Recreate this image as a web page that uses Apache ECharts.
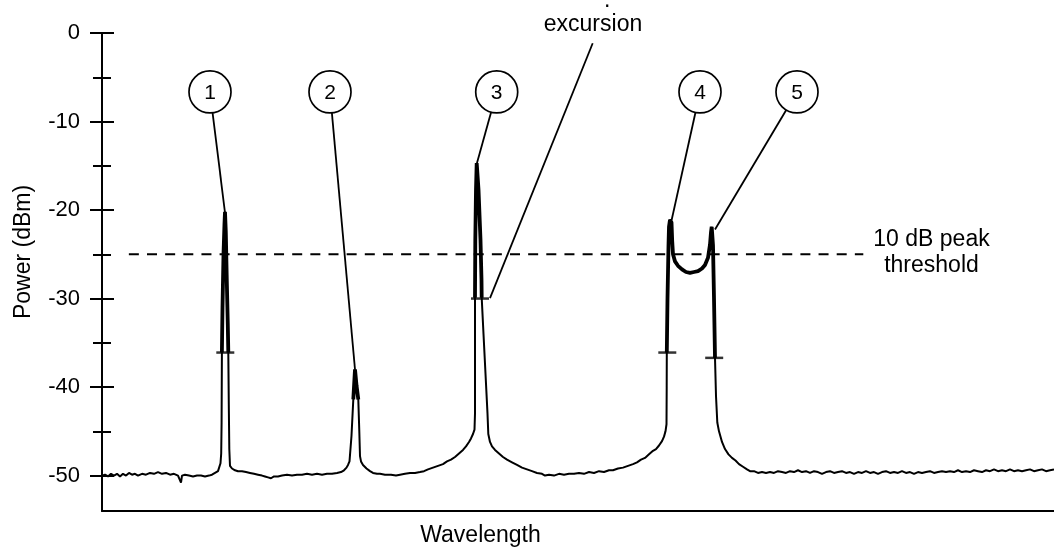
<!DOCTYPE html>
<html><head><meta charset="utf-8">
<script src="https://cdn.jsdelivr.net/npm/echarts@6/dist/echarts.min.js"></script>
<style>html,body{margin:0;padding:0;background:#fff}#c{width:1054px;height:551px}</style>
</head><body><div id="c"></div>
<script>
// ---- data ----
const yTicks = [0, -10, -20, -30, -40, -50];
const yMinorTicks = [-5, -15, -25, -35, -45];
const yRange = [-54, 0];
const xRange = [0, 952];
const threshold = -25;
const thresholdSpan = [26.85, 761.3];
const spectrum = [
[0,-50.0],[3,-49.9],[6,-50.1],[9,-49.8],[12,-50.0],[15,-49.8],[18,-50.1],[21,-49.8],[24,-50.0],[27,-49.7],[30,-49.9],[33,-49.8],[36,-50.0],[40,-49.8],[44,-49.9],[48,-49.7],[52,-49.8],[56,-49.6],[60,-49.8],[64,-49.7],[68,-49.9],[72,-49.8],[76,-50.0],[78,-50.1],[79,-50.8],[80,-50.0],[83,-49.9],[87,-50.0],[91,-50.1],[95,-50.0],[99,-50.0],[103,-50.1],[107,-50.0],[110,-49.9],[113,-49.7],[116,-49.5],[117,-49.3],[118.5,-48.6],[119.2,-47.5],
[119.6,-44],[119.9,-36.1],[120.5,-31],[121.5,-25],[122.5,-21.5],[123,-20.2],[123.8,-22.5],[124.8,-28],[125.8,-33],[126.3,-36.1],[126.8,-42],[127.3,-47],[128,-48.9],
[130,-49.2],[133,-49.4],[136,-49.5],[140,-49.5],[144,-49.6],[148,-49.7],[152,-49.8],[156,-49.9],[160,-50.0],[163,-50.1],[166,-50.2],[169,-50.3],[172,-50.1],[176,-50.1],[180,-50.0],[185,-49.9],[190,-50.0],[195,-49.9],[200,-49.9],[205,-49.8],[210,-49.9],[215,-49.8],[220,-49.9],[225,-49.8],[230,-49.8],[235,-49.7],[239,-49.6],[242,-49.4],[244.5,-49.1],[246,-48.8],[247.5,-48.4],
[248.3,-48.2],[249.5,-45.5],[251.3,-41.4],[253,-38.0],[254.5,-39.8],[256.3,-41.4],[257.3,-45],[258,-47.8],[259,-48.4],[261,-48.8],[264.5,-49.2],[268,-49.5],[271,-49.7],[275,-49.8],[278,-49.8],[283,-49.9],[289,-49.9],[294,-50.0],[298,-49.9],[303,-49.8],[308,-49.7],[313,-49.7],[318,-49.6],[322,-49.5],[326,-49.3],[331,-49.1],[336,-48.9],[341,-48.7],[345,-48.4],[349,-48.2],[353,-47.9],[357,-47.5],[361,-47.1],[364,-46.7],[367,-46.2],[369,-45.8],[371,-45.3],[372.5,-44.8],
[373,-43],[373,-29.9],[373.3,-23.4],[374,-17.7],[374.7,-14.7],[376.5,-17.7],[378.5,-23.4],[379.5,-27.9],[379.7,-29.9],[381.5,-34],[383.5,-38.5],[385.5,-43],[386.3,-45.3],[388,-46.2],[390,-46.7],[393,-47.1],[397,-47.5],[401,-47.9],[405,-48.2],[410,-48.5],[415,-48.8],[420,-49.1],[425,-49.3],[430,-49.5],[435,-49.7],[440,-49.8],[443,-50.0],[447,-49.9],[452,-50.0],[457,-49.8],[462,-49.9],[467,-49.8],[472,-49.8],[477,-49.7],[482,-49.8],[487,-49.6],[492,-49.7],[497,-49.5],[502,-49.6],[507,-49.4],[511,-49.4],[516,-49.2],[521,-49.1],[526,-48.9],[531,-48.7],[535,-48.5],[539,-48.2],[543,-48.0],[547,-47.6],[551,-47.2],[554,-47.0],[557,-46.6],[560,-46.1],[562,-45.6],[563.5,-45.0],[564.5,-44.2],
[564.7,-40],[564.8,-36.1],[565.5,-30],[566.5,-24],[567,-21.9],[568,-21.1],[569.5,-21.4],[570.2,-23.5],[571,-25],[573,-25.8],[576,-26.3],[580,-26.7],[584,-27.0],[588,-27.1],[592,-27.0],[596,-26.9],[600,-26.6],[603,-26.2],[606,-25.4],[608,-23.9],[609,-22.5],[609.7,-21.9],[611,-24],[612,-30],[613,-36.7],[614,-41],[615.3,-44.0],[617,-45],[620,-46.2],[623,-47],[626.5,-47.6],[630,-48.0],[633.5,-48.3],[637,-48.7],[641,-49.0],[645,-49.3],[648,-49.5],[652,-49.5],[656,-49.7],[660,-49.6],[664,-49.7],
[668,-49.6],[672,-49.7],[676,-49.5],[680,-49.6],[684,-49.7],[688,-49.5],[692,-49.6],[696,-49.4],[700,-49.6],[704,-49.5],[708,-49.7],[712,-49.5],[716,-49.6],[720,-49.8],[724,-49.6],[728,-49.5],[732,-49.7],[736,-49.6],[740,-49.5],[744,-49.7],[748,-49.6],[752,-49.8],[756,-49.6],[760,-49.7],[764,-49.5],[768,-49.7],[772,-49.6],[776,-49.8],[780,-49.6],[784,-49.5],[788,-49.7],[792,-49.6],[796,-49.7],[800,-49.5],[804,-49.7],[808,-49.6],[812,-49.8],[816,-49.6],[820,-49.7],[824,-49.6],[828,-49.5],[832,-49.7],[836,-49.6],[840,-49.5],[844,-49.6],[848,-49.5],[852,-49.6],[856,-49.4],[860,-49.6],[864,-49.5],[868,-49.6],[872,-49.4],[876,-49.5],[880,-49.6],[884,-49.4],[888,-49.5],[892,-49.3],[896,-49.5],[900,-49.4],[904,-49.5],[908,-49.3],[912,-49.5],[916,-49.4],[920,-49.5],[924,-49.4],[928,-49.3],[932,-49.5],[936,-49.4],[940,-49.3],[944,-49.5],[948,-49.4],[952,-49.3]
];
// peak windows [xFrom, xTo, floor dB] where the trace was overdrawn (heavier)
const peakWindows = [[115,131,-36.5],[245,262,-41.6],[370,385,-30.1],[560,620,-36.9]];
const excursionMarks = [[123.3,-36.1],[378,-30.0],[565.3,-36.1],[612.2,-36.7]];
const calloutLabels = ['1','2','3','4','5'];
const calloutCenters = [[108,-6.66],[228,-6.66],[394.7,-6.66],[598,-6.66],[695,-6.66]];
const calloutTargets = [[123,-20.3],[253,-38.0],[374.7,-14.8],[569.7,-21.1],[613,-22.2]];
const excursionText = 'excursion';
const excursionAt = [491, 0.9];
const excursionLine = [[490.7,-1.16],[388,-29.95]];
const cutDotAt = [505.3, 3.65];
const thresholdText = '10 dB peak\nthreshold';
const thresholdTextAt = [829.5, -24.8];
const xName = 'Wavelength';
const yName = 'Power (dBm)';

// ---- chart ----
const FF = '"Liberation Sans", Arial, Helvetica, sans-serif';
const heavy = spectrum.map(p => {
  const w = peakWindows.find(w => p[0] >= w[0] && p[0] <= w[1]);
  return (w && p[1] >= w[2]) ? p : [p[0], null];
});
const tickStyle = {color:'#000', width:2};
const baseY = {type:'value', min:yRange[0], max:yRange[1], position:'left',
  splitLine:{show:false}, axisLine:{show:false}, axisLabel:{show:false}, axisTick:{show:false}};
const chart = echarts.init(document.getElementById('c'), null, {renderer:'canvas'});
chart.setOption({
  animation:false,
  backgroundColor:'#fff',
  grid:{left:102, right:0, top:33, bottom:40, containLabel:false},
  xAxis:{type:'value', min:xRange[0], max:xRange[1],
    axisLine:{onZero:false, lineStyle:{color:'#000', width:2}},
    axisTick:{show:false}, axisLabel:{show:false}, splitLine:{show:false}},
  yAxis:[
    Object.assign({}, baseY, {
      axisLine:{show:true, onZero:false, lineStyle:{color:'#000', width:2}},
      axisLabel:{show:true, customValues:yTicks, fontSize:22, color:'#000', margin:22, fontFamily:FF},
      axisTick:{show:true, customValues:yTicks, length:12, lineStyle:tickStyle}}),
    Object.assign({}, baseY, {axisTick:{show:true, inside:true, customValues:yTicks, length:12, lineStyle:tickStyle}}),
    Object.assign({}, baseY, {axisTick:{show:true, customValues:yMinorTicks, length:9, lineStyle:tickStyle}}),
    Object.assign({}, baseY, {axisTick:{show:true, inside:true, customValues:yMinorTicks, length:9, lineStyle:tickStyle}})
  ],
  series:[
    {type:'line', data:spectrum, showSymbol:false, symbol:'none', lineStyle:{color:'#000', width:2}, z:3},
    {type:'line', data:heavy, showSymbol:false, symbol:'none', connectNulls:false, lineStyle:{color:'#000', width:3.8}, z:4},
    {type:'line', data:[[thresholdSpan[0], threshold],[thresholdSpan[1], threshold]], showSymbol:false, symbol:'none',
      lineStyle:{color:'#000', width:2, type:[10, 8.15]}, z:2},
    {type:'scatter', data:excursionMarks, symbol:'rect', symbolSize:[18, 2.5], itemStyle:{color:'#000'}, z:5}
  ]
});

function px(p){ return chart.convertToPixel({gridIndex:0}, p); }
const font = '23px ' + FF;
const g = [];
const R = 21;
function txt(x, y, text, extra){
  return Object.assign({type:'text', x:x, y:y, z:12,
    style:Object.assign({text:text, font:font, fill:'#000', align:'center', verticalAlign:'middle', textAlign:'center', textVerticalAlign:'middle'}, extra || {})});
}
calloutLabels.forEach((lab, i) => {
  const c = px(calloutCenters[i]);
  const t = px(calloutTargets[i]);
  const dx = t[0]-c[0], dy = t[1]-c[1], d = Math.hypot(dx, dy);
  g.push({type:'line', shape:{x1:c[0]+R*dx/d, y1:c[1]+R*dy/d, x2:t[0], y2:t[1]}, style:{stroke:'#000', lineWidth:1.8}, z:10});
  g.push({type:'circle', shape:{cx:c[0], cy:c[1], r:R}, style:{fill:'#fff', stroke:'#000', lineWidth:1.7}, z:11});
  g.push(txt(c[0], c[1]+1, lab, {font:'21px ' + FF}));
});
const e0 = px(excursionLine[0]), e1 = px(excursionLine[1]);
g.push({type:'line', shape:{x1:e0[0], y1:e0[1], x2:e1[0], y2:e1[1]}, style:{stroke:'#000', lineWidth:1.8}, z:10});
const ea = px(excursionAt);
g.push(txt(ea[0], ea[1], excursionText));
const cd = px(cutDotAt);
g.push(txt(cd[0], cd[1], '.'));
const ta = px(thresholdTextAt);
g.push(txt(ta[0], ta[1], thresholdText, {lineHeight:26.5}));
g.push(txt(480.5, 535.5, xName));
g.push(Object.assign(txt(24, 252, yName), {rotation:Math.PI/2}));
chart.setOption({graphic:g});
</script></body></html>
